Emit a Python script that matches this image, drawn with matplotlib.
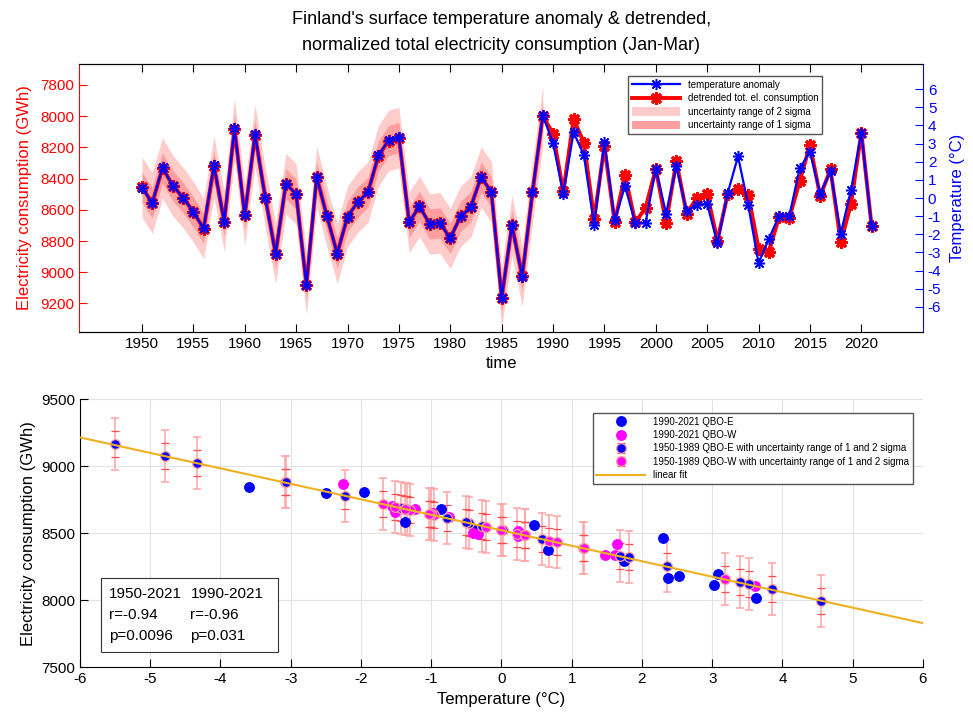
import numpy as np
import matplotlib.pyplot as plt
from matplotlib.patches import Rectangle

plt.rcParams['font.family'] = ['Liberation Sans', 'DejaVu Sans']
plt.rcParams['axes.unicode_minus'] = False

# Jan-Mar data, 1950-2021
years = np.arange(1950, 2022)
temp = np.array([
    0.58, -0.28, 1.69, 0.68, 0.02, -0.77, -1.68, 1.81, -1.30, 3.85,
    -0.96, 3.52, 0.00, -3.08, 0.79, 0.22, -4.79, 1.16, -1.01, -3.07,
    -1.03, -0.22, 0.33, 2.35, 3.18, 3.39, -1.34, -0.46, -1.43, -1.38,
    -2.23, -1.01, -0.50, 1.17, 0.33, -5.50, -1.51, -4.33, 0.33, 4.55,
    3.03, 0.24, 3.62, 2.37, -1.51, 3.08, -1.23, 0.66, -1.38, -1.38,
    1.61, -0.86, 1.74, -0.74, -0.37, -0.33, -2.50, 0.28, 2.30, -0.41,
    -3.59, -2.25, -0.97, -0.97, 1.64, 2.53, 0.24, 1.47, -1.96, 0.46,
    3.61, -1.56])
cons = np.array([
    8456, 8556, 8332, 8445, 8522, 8613, 8720, 8322, 8675, 8083,
    8635, 8121, 8524, 8880, 8433, 8498, 9080, 8390, 8642, 8880,
    8643, 8550, 8486, 8256, 8156, 8137, 8680, 8578, 8690, 8684,
    8782, 8642, 8581, 8390, 8486, 9163, 8699, 9025, 8486, 7998,
    8113, 8482, 8019, 8169, 8658, 8194, 8680, 8375, 8680, 8588,
    8337, 8684, 8290, 8624, 8524, 8498, 8797, 8497, 8465, 8503,
    8848, 8869, 8645, 8652, 8418, 8183, 8514, 8339, 8808, 8560,
    8105, 8705])
qbo = np.array(list("EEEWEEWEWE" "WEWEWWEWWE" "WWWEWEEEEW" "EEEWWEWEWE"
                    "EWEEWEWEWE" "WEEWEWEWEW" "EWWWWEWWEE" "WW"))
sigma1 = 97
sigma2 = 194

title = ("Finland's surface temperature anomaly & detrended,\n"
         "normalized total electricity consumption (Jan-Mar)")

fig = plt.figure(figsize=(9.73, 7.18), dpi=100)

# ---- top: time series
ax1 = fig.add_axes([0.0815, 0.538, 0.8671, 0.3724])
ax2 = ax1.twinx()

hist = years < 1990
p2 = ax1.fill_between(years[hist], cons[hist] - sigma2, cons[hist] + sigma2,
                      color='#ffcccc', lw=0)
p1 = ax1.fill_between(years[hist], cons[hist] - sigma1, cons[hist] + sigma1,
                      color='#ff9e9e', lw=0)
star = (8, 2, 0)
l_red, = ax1.plot(years, cons, color='red', lw=2.8, marker=star, ms=9, mew=2.2)
l_blue, = ax2.plot(years, temp, color='blue', lw=1.6, marker=star, ms=8, mew=1.1)

ax1.set_xlim(1943.9, 2026)
ax1.set_ylim(9381, 7668)
ax2.set_ylim(-7.37, 7.37)
ax1.set_xticks(np.arange(1950, 2021, 5))
ax1.set_yticks(np.arange(7800, 9201, 200))
ax2.set_yticks(np.arange(-6, 7, 1))

ax1.spines['left'].set_color('red')
ax1.spines['right'].set_visible(False)
ax2.spines['left'].set_visible(False)
ax2.spines['right'].set_color('blue')
ax1.tick_params(axis='x', direction='in', top=True, length=6, labelsize=11)
ax1.tick_params(axis='y', direction='in', colors='red', length=6, labelsize=11)
ax2.tick_params(axis='y', direction='in', colors='blue', length=6, labelsize=11)
ax1.set_xlabel('time', fontsize=12)
ax1.set_ylabel('Electricity consumption (GWh)', color='red', fontsize=12, labelpad=6)
ax2.set_ylabel('Temperature (°C)', color='blue', fontsize=12, labelpad=6)
ax1.set_title(title, fontsize=13, pad=10, linespacing=1.7)

ax2.legend([l_blue, l_red, p2, p1],
           ['temperature anomaly', 'detrended tot. el. consumption',
            'uncertainty range of 2 sigma', 'uncertainty range of 1 sigma'],
           loc='upper left', bbox_to_anchor=(0.650, 0.956), borderaxespad=0,
           fontsize=7, handlelength=5, handleheight=1.0, labelspacing=0.35,
           fancybox=False, framealpha=1, edgecolor='#555555')

# ---- bottom: scatter against temperature
ax3 = fig.add_axes([0.0822, 0.0706, 0.8664, 0.3733])
ax3.grid(True, color='#e3e3e3', lw=0.8)
ax3.set_axisbelow(True)

colors = {'E': 'blue', 'W': 'magenta'}
handles = {}
for g in ['E', 'W']:
    m = hist & (qbo == g)
    ax3.errorbar(temp[m], cons[m], yerr=sigma2, fmt='none', ecolor='#ffaaaa',
                 elinewidth=1.2, capsize=3, capthick=1.2, zorder=2)
for g in ['E', 'W']:
    m = hist & (qbo == g)
    handles['old' + g] = ax3.errorbar(temp[m], cons[m], yerr=sigma1, fmt='o',
                                      color=colors[g], mec='#ff9e9e', mew=0.9,
                                      ms=7, ecolor='#ff4d4d', elinewidth=0,
                                      capsize=3, capthick=1.2, zorder=3)
for g in ['E', 'W']:
    m = ~hist & (qbo == g)
    handles['new' + g], = ax3.plot(temp[m], cons[m], 'o', color=colors[g],
                                   ms=6.8, ls='none', zorder=3)

coef = np.polyfit(temp, cons, 1)
tx = np.array([-6, 6])
h_fit, = ax3.plot(tx, np.polyval(coef, tx), color='#EDB120', lw=1.5, zorder=5)

ax3.set_xlim(-6, 6)
ax3.set_ylim(7500, 9500)
ax3.set_xticks(np.arange(-6, 7, 1))
ax3.set_yticks(np.arange(7500, 9501, 500))
ax3.spines['top'].set_visible(False)
ax3.spines['right'].set_visible(False)
ax3.tick_params(direction='in', length=6, labelsize=11)
ax3.set_xlabel('Temperature (°C)', fontsize=12)
ax3.set_ylabel('Electricity consumption (GWh)', fontsize=12)

ax3.legend([handles['newE'], handles['newW'], handles['oldE'], handles['oldW'], h_fit],
           ['1990-2021 QBO-E', '1990-2021 QBO-W',
            '1950-1989 QBO-E with uncertainty range of 1 and 2 sigma',
            '1950-1989 QBO-W with uncertainty range of 1 and 2 sigma',
            'linear fit'],
           loc='upper left', bbox_to_anchor=(0.608, 0.950), borderaxespad=0,
           fontsize=7, handlelength=5, labelspacing=0.35, numpoints=1,
           fancybox=False, framealpha=1, edgecolor='#555555')

ax3.add_patch(Rectangle((0.0246, 0.058), 0.2104, 0.274, transform=ax3.transAxes,
                        facecolor='white', edgecolor='#333333', lw=0.8, zorder=6))
col1 = ['1950-2021', 'r=-0.94', 'p=0.0096']
col2 = ['1990-2021', 'r=-0.96', 'p=0.031']
for i, yy in enumerate([0.2735, 0.194, 0.117]):
    ax3.text(0.0348, yy, col1[i], transform=ax3.transAxes, fontsize=11,
             va='center', zorder=7)
    ax3.text(0.131, yy, col2[i], transform=ax3.transAxes, fontsize=11,
             va='center', zorder=7)

fig.savefig('out.png', dpi=100)
